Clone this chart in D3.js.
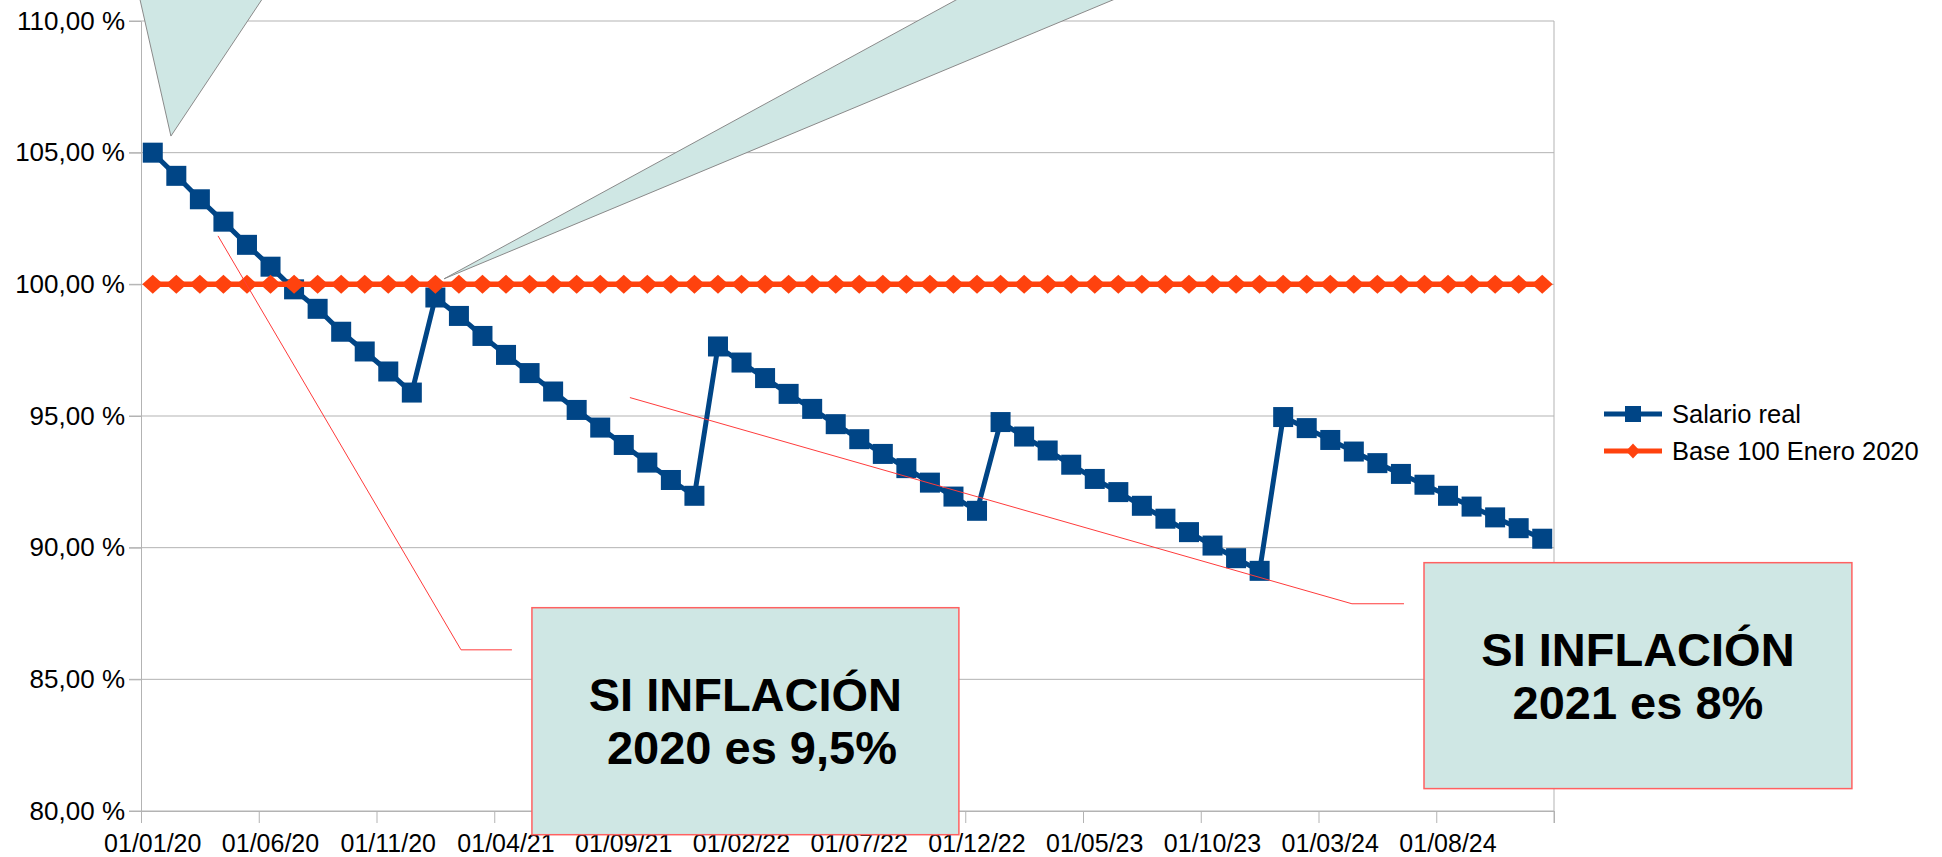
<!DOCTYPE html>
<html>
<head>
<meta charset="utf-8">
<script src="https://cdn.jsdelivr.net/npm/d3@7"></script>
<style>
  body { margin: 0; background: #fff; }
  svg { display: block; font-family: "Liberation Sans", Arial, sans-serif; }
</style>
</head>
<body>
<div id="chart"></div>
<script>
// categories: one per month, Jan 2020 .. Dec 2024
const months = d3.timeMonth.range(new Date(2020, 0, 1), new Date(2025, 0, 1));
const tickEvery = 5;
const yTicks = [80, 85, 90, 95, 100, 105, 110];

const salarioReal = [
  105.00, 104.12, 103.23, 102.38, 101.50, 100.67, 99.81, 99.07, 98.20, 97.45, 96.69, 95.89,
  99.50, 98.80, 98.04, 97.32, 96.63, 95.93, 95.23, 94.56, 93.90, 93.23, 92.57, 91.97,
  97.64, 97.03, 96.44, 95.84, 95.27, 94.69, 94.12, 93.56, 93.02, 92.47, 91.94, 91.40,
  94.77, 94.22, 93.69, 93.15, 92.61, 92.11, 91.59, 91.10, 90.59, 90.08, 89.60, 89.12,
  94.96, 94.54, 94.09, 93.65, 93.21, 92.80, 92.39, 91.97, 91.56, 91.15, 90.74, 90.34
];
const base100 = [
  100, 100, 100, 100, 100, 100, 100, 100, 100, 100, 100, 100,
  100, 100, 100, 100, 100, 100, 100, 100, 100, 100, 100, 100,
  100, 100, 100, 100, 100, 100, 100, 100, 100, 100, 100, 100,
  100, 100, 100, 100, 100, 100, 100, 100, 100, 100, 100, 100,
  100, 100, 100, 100, 100, 100, 100, 100, 100, 100, 100, 100
];
const seriesNames = ["Salario real", "Base 100 Enero 2020"];

// annotations, in (category position, value) units
const callouts = [
  [[1.27, 105.63], [-0.14, 111.2], [5.42, 111.2]],
  [[12.87, 100.21], [35.43, 111.2], [42.34, 111.2]]
];
const connectors = [
  [[3.27, 101.84], [13.59, 86.12], [15.75, 86.12]],
  [[20.76, 95.70], [51.42, 87.87], [53.63, 87.87]]
];
const notes = [
  { x0: 16.60, x1: 34.73, y0: 87.72, y1: 79.10, lines: ["SI INFLACIÓN", " 2020 es 9,5%"] },
  { x0: 54.48, x1: 72.65, y0: 89.43, y1: 80.85, lines: ["SI INFLACIÓN", "2021 es 8%"] }
];

const width = 1942, height = 857;
const plotL = 141, plotR = 1554, plotT = 21, plotB = 811;
const blue = "#004586", orange = "#ff420e", grid = "#b3b3b3";

const svg = d3.select("#chart").append("svg")
  .attr("width", width)
  .attr("height", height);

const pos = d3.scaleLinear().domain([0, months.length]).range([plotL, plotR]);
const x = i => pos(i + 0.5);
const y = d3.scaleLinear().domain([80, 110]).range([plotB, plotT]);

const es = d3.formatLocale({ decimal: ",", thousands: ".", grouping: [3], currency: ["", " €"] });
const fmtY = v => es.format(".2f")(v) + " %";
const fmtX = d3.timeFormat("%d/%m/%y");

// gridlines
svg.append("g")
  .selectAll("line")
  .data(yTicks)
  .join("line")
  .attr("x1", plotL - 12).attr("x2", plotR)
  .attr("y1", d => y(d)).attr("y2", d => y(d))
  .attr("stroke", grid).attr("stroke-width", 1);

// y axis
const yAxis = svg.append("g")
  .attr("transform", `translate(${plotL},0)`)
  .call(d3.axisLeft(y).tickValues(yTicks).tickFormat(fmtY).tickSize(12).tickPadding(4));
yAxis.select(".domain").attr("stroke", grid);
yAxis.selectAll(".tick line").attr("stroke", grid);
yAxis.selectAll("text").attr("font-size", 26).attr("fill", "#000")
  .attr("font-family", "Liberation Sans, Arial, sans-serif");

// right wall
svg.append("line")
  .attr("x1", plotR).attr("x2", plotR).attr("y1", plotT).attr("y2", plotB + 12)
  .attr("stroke", grid);

// x axis: ticks at category boundaries, labels at category centers
const xTickIdx = d3.range(0, months.length + 1, tickEvery);
const xAxis = svg.append("g")
  .attr("transform", `translate(0,${plotB})`)
  .call(d3.axisBottom(pos).tickValues(xTickIdx).tickFormat("").tickSize(12).tickSizeOuter(0));
xAxis.select(".domain").attr("stroke", grid);
xAxis.selectAll(".tick line").attr("stroke", grid);

svg.append("g")
  .selectAll("text")
  .data(months.filter((d, i) => i % tickEvery === 0))
  .join("text")
  .attr("x", (d, i) => x(i * tickEvery))
  .attr("y", 852)
  .attr("text-anchor", "middle")
  .attr("font-size", 25)
  .text(d => fmtX(d));

// series
const line = d3.line().x((d, i) => x(i)).y(d => y(d));

svg.append("path")
  .datum(salarioReal)
  .attr("fill", "none").attr("stroke", blue).attr("stroke-width", 5)
  .attr("stroke-linejoin", "round")
  .attr("d", line);
svg.append("g")
  .selectAll("rect")
  .data(salarioReal)
  .join("rect")
  .attr("x", (d, i) => x(i) - 10).attr("y", d => y(d) - 10)
  .attr("width", 20).attr("height", 20)
  .attr("fill", blue);

const diamond = (w, h) => `M0,${-h / 2}L${w / 2},0L0,${h / 2}L${-w / 2},0Z`;

svg.append("path")
  .datum(base100)
  .attr("fill", "none").attr("stroke", orange).attr("stroke-width", 5.5)
  .attr("d", line);
svg.append("g")
  .selectAll("path")
  .data(base100)
  .join("path")
  .attr("transform", (d, i) => `translate(${x(i)},${y(d)})`)
  .attr("d", diamond(21, 19))
  .attr("fill", orange);

// annotation boxes
const pt = p => [pos(p[0]), y(p[1])];

notes.forEach(n => {
  const bx = pos(n.x0), by = y(n.y0), bw = pos(n.x1) - bx, bh = y(n.y1) - by;
  svg.append("rect")
    .attr("x", bx).attr("y", by).attr("width", bw).attr("height", bh)
    .attr("fill", "#cfe7e4").attr("stroke", "#ff6161").attr("stroke-width", 1.5);
  svg.append("g")
    .selectAll("text")
    .data(n.lines)
    .join("text")
    .attr("x", bx + bw / 2)
    .attr("y", (d, i) => by + 103 + i * 53)
    .attr("text-anchor", "middle")
    .attr("font-size", 47)
    .attr("font-weight", "bold")
    .attr("xml:space", "preserve")
    .style("white-space", "pre")
    .text(d => d);
});

svg.append("g")
  .selectAll("path")
  .data(connectors)
  .join("path")
  .attr("d", d => d3.line()(d.map(pt)))
  .attr("fill", "none").attr("stroke", "#ff3b3b").attr("stroke-width", 1);

svg.append("g")
  .selectAll("path")
  .data(callouts)
  .join("path")
  .attr("d", d => d3.line()(d.map(pt)) + "Z")
  .attr("fill", "#cfe7e4").attr("stroke", "#8a8a8a").attr("stroke-width", 1);

// legend
const legend = svg.append("g").attr("transform", "translate(1604,414)");
const items = legend.selectAll("g")
  .data(seriesNames)
  .join("g")
  .attr("transform", (d, i) => `translate(0,${i * 37})`);
items.append("line")
  .attr("x1", 0).attr("x2", 58)
  .attr("stroke", (d, i) => i ? orange : blue).attr("stroke-width", 5);
items.filter((d, i) => i === 0).append("rect")
  .attr("x", 21).attr("y", -8).attr("width", 16).attr("height", 16).attr("fill", blue);
items.filter((d, i) => i === 1).append("path")
  .attr("transform", "translate(29,0)").attr("d", diamond(14, 15)).attr("fill", orange);
items.append("text")
  .attr("x", 68).attr("dy", "0.35em")
  .attr("font-size", 25.5)
  .text(d => d);
</script>
</body>
</html>
